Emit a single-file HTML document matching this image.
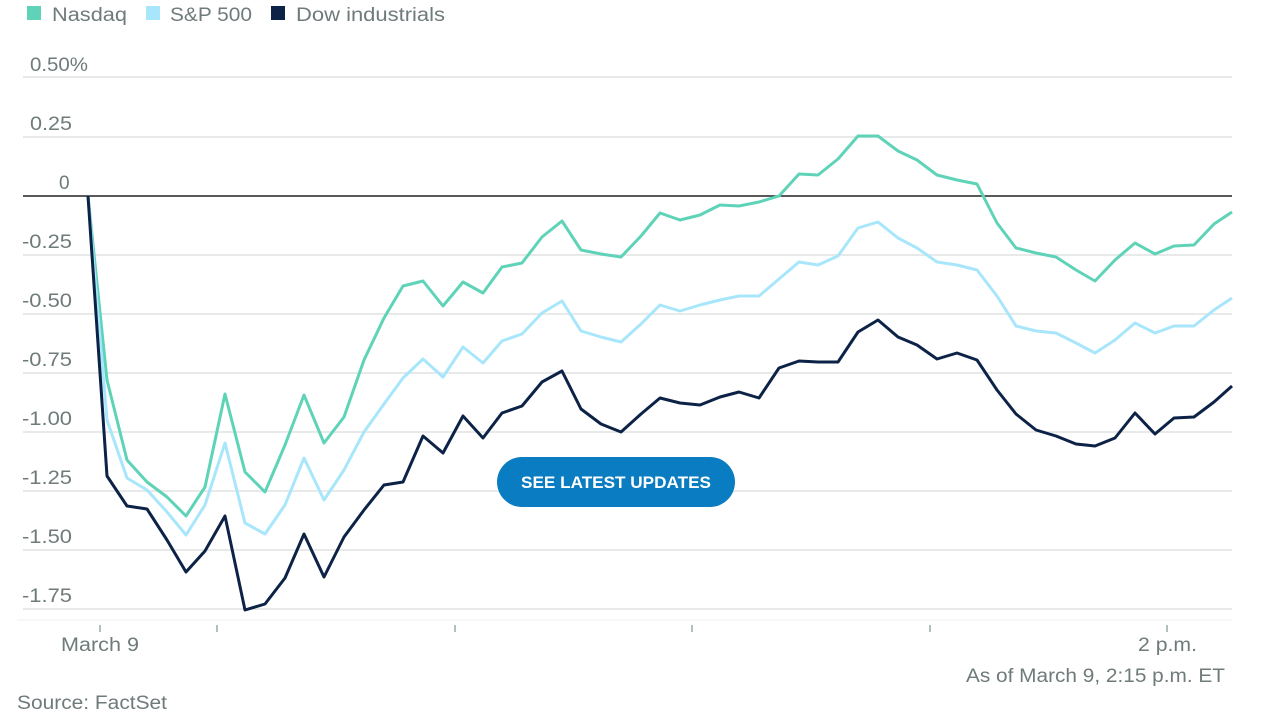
<!DOCTYPE html>
<html><head><meta charset="utf-8"><style>
body{margin:0;background:#fff;width:1280px;height:720px;overflow:hidden;font-family:"Liberation Sans",sans-serif}
</style></head><body>
<svg width="1280" height="720" xmlns="http://www.w3.org/2000/svg" font-family="Liberation Sans, sans-serif">
<rect x="27" y="6" width="14" height="14" fill="#5fd3b8"/><text x="52" y="21" font-size="19" fill="#6f7a7a" textLength="75" lengthAdjust="spacingAndGlyphs">Nasdaq</text>
<rect x="146" y="6" width="14" height="14" fill="#a8e6fb"/><text x="170" y="21" font-size="19" fill="#6f7a7a" textLength="82" lengthAdjust="spacingAndGlyphs">S&amp;P 500</text>
<rect x="271" y="6" width="14" height="14" fill="#0c2246"/><text x="296" y="21" font-size="19" fill="#6f7a7a" textLength="149" lengthAdjust="spacingAndGlyphs">Dow industrials</text>
<g stroke="#e8eaea" stroke-width="2">
<line x1="23" x2="1232" y1="77" y2="77"/><line x1="23" x2="1232" y1="137" y2="137"/>
<line x1="23" x2="1232" y1="255" y2="255"/><line x1="23" x2="1232" y1="314" y2="314"/>
<line x1="23" x2="1232" y1="373" y2="373"/><line x1="23" x2="1232" y1="432" y2="432"/>
<line x1="23" x2="1232" y1="491" y2="491"/><line x1="23" x2="1232" y1="550" y2="550"/>
<line x1="23" x2="1232" y1="609" y2="609"/>
</g>
<line x1="17" x2="1232" y1="620" y2="620" stroke="#f0f0f0" stroke-width="1"/>
<g stroke="#9aa" stroke-width="1.5">
<line x1="100" x2="100" y1="625" y2="632"/><line x1="217" x2="217" y1="625" y2="632"/><line x1="455" x2="455" y1="625" y2="632"/><line x1="692" x2="692" y1="625" y2="632"/><line x1="930" x2="930" y1="625" y2="632"/><line x1="1167" x2="1167" y1="625" y2="632"/>
</g>
<g font-size="19" fill="#6f7a7a" lengthAdjust="spacingAndGlyphs">
<text x="30" y="71" textLength="58" lengthAdjust="spacingAndGlyphs">0.50%</text><text x="30" y="130" textLength="42" lengthAdjust="spacingAndGlyphs">0.25</text><text x="59" y="189">0</text>
<text x="22" y="248" textLength="50" lengthAdjust="spacingAndGlyphs">-0.25</text><text x="22" y="307" textLength="50" lengthAdjust="spacingAndGlyphs">-0.50</text><text x="22" y="366" textLength="50" lengthAdjust="spacingAndGlyphs">-0.75</text>
<text x="22" y="425" textLength="50" lengthAdjust="spacingAndGlyphs">-1.00</text><text x="22" y="484" textLength="50" lengthAdjust="spacingAndGlyphs">-1.25</text><text x="22" y="543" textLength="50" lengthAdjust="spacingAndGlyphs">-1.50</text><text x="22" y="602" textLength="50" lengthAdjust="spacingAndGlyphs">-1.75</text>
<text x="61" y="651" textLength="78" lengthAdjust="spacingAndGlyphs">March 9</text><text x="1138" y="651" textLength="59" lengthAdjust="spacingAndGlyphs">2 p.m.</text>
<text x="966" y="682" textLength="259" lengthAdjust="spacingAndGlyphs">As of March 9, 2:15 p.m. ET</text>
<text x="17" y="709" textLength="150" lengthAdjust="spacingAndGlyphs">Source: FactSet</text>
</g>
<line x1="23" x2="1232" y1="196" y2="196" stroke="#222" stroke-width="1.5"/>
<g fill="none" stroke-width="3" stroke-linejoin="round">
<polyline stroke="#5fd3b8" points="88,196 107,380 127,460 147,482 167,497 186,516 205,487 225,394 245,472 265,492 285,445 304,395 324,443 344,417 364,360 384,318 403,286 423,281 443,306 463,282 483,293 502,267 522,263 542,237 562,221 581,250 601,254 621,257 641,236 660,213 680,220 700,215 720,205 739,206 759,202 779,196 799,174 818,175 838,159 858,136 878,136 898,151 917,160 937,175 957,180 977,184 997,223 1016,248 1036,253 1056,257 1076,270 1095,281 1115,260 1135,243 1155,254 1174,246 1194,245 1214,224 1232,212"/>
<polyline stroke="#a8e6fb" points="88,196 107,420 127,478 147,490 167,512 186,535 205,505 225,443 245,523 265,534 285,505 304,458 324,500 344,470 364,432 384,404 403,378 423,359 443,377 463,347 483,363 502,341 522,334 542,313 562,301 581,331 601,337 621,342 641,324 660,305 680,311 700,305 720,300 739,296 759,296 779,279 799,262 818,265 838,256 858,228 878,222 898,238 917,248 937,262 957,265 977,270 997,296 1016,326 1036,331 1056,333 1076,343 1095,353 1115,340 1135,323 1155,333 1174,326 1194,326 1214,310 1232,298"/>
<polyline stroke="#0c2246" points="88,196 107,476 127,506 147,509 167,540 186,572 205,551 225,516 245,610 265,604 285,578 304,534 324,577 344,537 364,510 384,485 403,482 423,436 443,453 463,416 483,438 502,413 522,406 542,382 562,371 581,409 601,424 621,432 641,414 660,398 680,403 700,405 720,397 739,392 759,398 779,368 799,361 818,362 838,362 858,332 878,320 898,337 917,345 937,359 957,353 977,360 997,390 1016,414 1036,430 1056,436 1076,444 1095,446 1115,438 1135,413 1155,434 1174,418 1194,417 1214,402 1232,386"/>
</g>
<rect x="497" y="457" width="238" height="50" rx="25" fill="#0a7cc1"/>
<text x="521" y="488" font-size="17" font-weight="bold" fill="#fff" textLength="190" lengthAdjust="spacingAndGlyphs">SEE LATEST UPDATES</text>
</svg>
</body></html>
